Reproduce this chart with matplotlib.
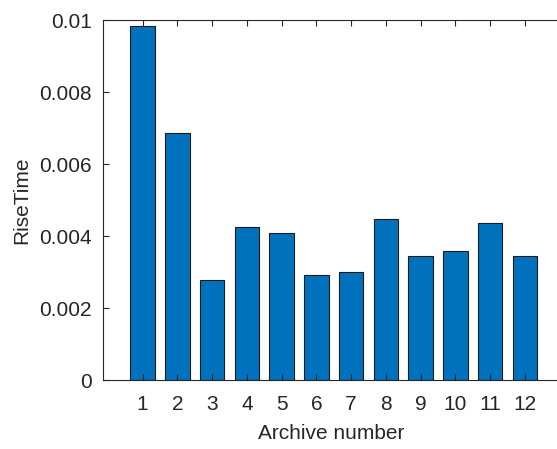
import matplotlib.pyplot as plt

archives = list(range(1, 13))
rise_time = [0.00983, 0.00687, 0.00278, 0.00424, 0.00408, 0.00293,
             0.00299, 0.00448, 0.00344, 0.00359, 0.00436, 0.00344]
y_ticks = [0, 0.002, 0.004, 0.006, 0.008, 0.01]
y_labels = ['0', '0.002', '0.004', '0.006', '0.008', '0.01']

plt.rcParams['font.family'] = ['Liberation Sans', 'DejaVu Sans']
txt = '#262626'

W, H = 557, 449
fig = plt.figure(figsize=(W / 100, H / 100), dpi=100)
# axes: left 103px, top 20px, bottom 380px, right a bit past the figure edge
x0, x1 = -0.14, 13.0
px_per_unit = 34.75
right = 103 + (x1 - x0) * px_per_unit
ax = fig.add_axes([103 / W, (H - 380) / H, (right - 103) / W, 360 / H])

ax.bar(archives, rise_time, width=0.7, color='#0072BD',
       edgecolor='#1a1a1a', linewidth=0.8)

ax.set_xlim(x0, x1)
ax.set_ylim(0, 0.01)
ax.set_xticks(archives)
ax.set_yticks(y_ticks)
ax.set_yticklabels(y_labels)
ax.tick_params(direction='in', length=4, width=0.8, colors=txt,
               labelsize=15, top=True, right=False)
ax.tick_params(axis='x', pad=11)
ax.tick_params(axis='y', pad=8)
for s in ax.spines.values():
    s.set_color(txt)
    s.set_linewidth(0.8)

ax.set_xlabel('Archive number', fontsize=15, color=txt, labelpad=7)
ax.set_ylabel('RiseTime', fontsize=15, color=txt, labelpad=6)

fig.savefig('out.png', dpi=100)
